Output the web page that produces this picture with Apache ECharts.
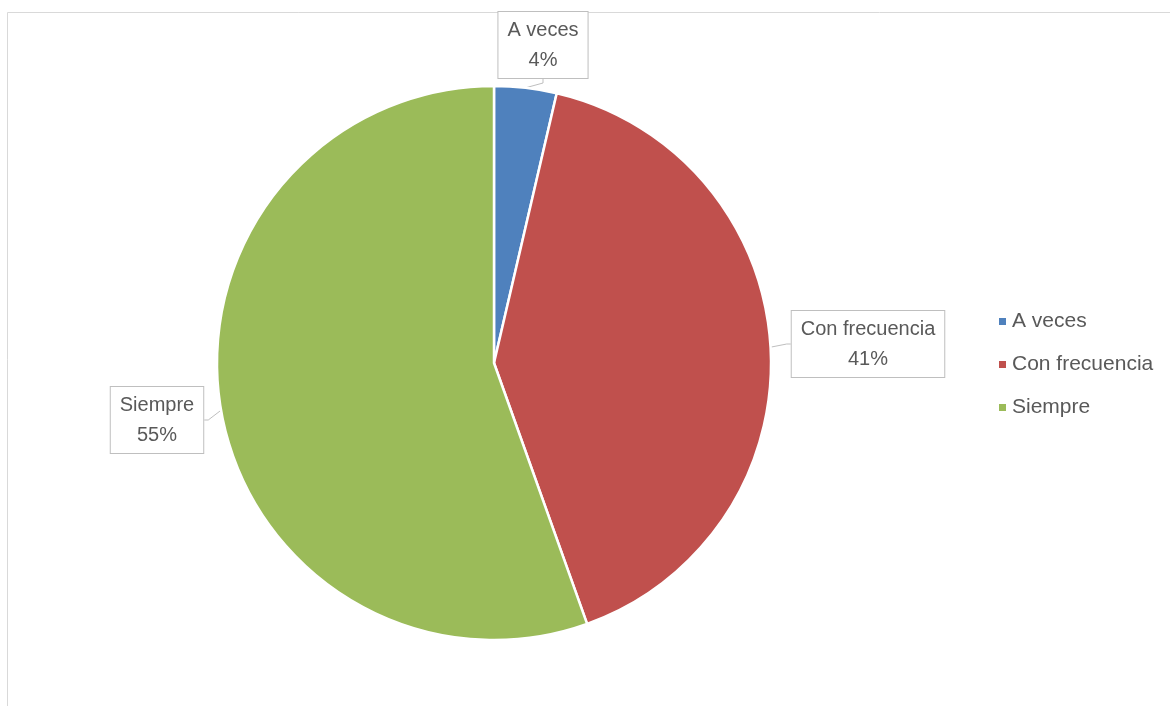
<!DOCTYPE html>
<html>
<head>
<meta charset="utf-8">
<script src="https://cdn.jsdelivr.net/npm/echarts@6/dist/echarts.min.js"></script>
<style>
html,body{margin:0;padding:0;background:#fff;}
#chart{width:1170px;height:706px;}
</style>
</head>
<body>
<div id="chart"></div>
<script>
const categories = ['A veces', 'Con frecuencia', 'Siempre'];
const values = [4, 45, 61];
const colors = ['#4f81bd', '#c0504d', '#9bbb59'];

const labelSpots = [
  {x: 543, y: 45},
  {x: 868, y: 344},
  {x: 157, y: 420}
];

const chart = echarts.init(document.getElementById('chart'));
const font = '"Liberation Sans", Arial, sans-serif';
chart.setOption({
  animation: false,
  backgroundColor: '#fff',
  graphic: [
    {type: 'line', shape: {x1: 7.5, y1: 12.5, x2: 1170, y2: 12.5}, style: {stroke: '#d9d9d9', lineWidth: 1}, z: -1},
    {type: 'line', shape: {x1: 7.5, y1: 12.5, x2: 7.5, y2: 706}, style: {stroke: '#d9d9d9', lineWidth: 1}, z: -1}
  ],
  legend: {
    orient: 'vertical',
    left: 992,
    top: 306,
    itemWidth: 9,
    itemHeight: 9,
    itemGap: 22,
    icon: 'rect',
    textStyle: {fontFamily: font, fontSize: 21, color: '#595959'},
    data: categories
  },
  series: [{
    type: 'pie',
    center: [494, 363],
    radius: 277,
    startAngle: 90,
    clockwise: true,
    percentPrecision: 0,
    itemStyle: {borderColor: '#fff', borderWidth: 2.5},
    data: categories.map((c, i) => ({name: c, value: values[i], itemStyle: {color: colors[i]}})),
    label: {
      show: true,
      position: 'outside',
      formatter: '{b}\n{d}%',
      fontFamily: font,
      fontSize: 20,
      lineHeight: 30,
      color: '#595959',
      align: 'center',
      backgroundColor: '#fff',
      borderColor: '#bfbfbf',
      borderWidth: 1,
      padding: [4, 9, 2, 9]
    },
    labelLine: {show: true, length: 8, length2: 4, lineStyle: {color: '#bfbfbf', width: 1}},
    labelLayout: function (p) {
      const s = labelSpots[p.dataIndex];
      return {x: s.x, y: s.y, align: 'center', verticalAlign: 'middle', hideOverlap: false};
    }
  }]
});
</script>
</body>
</html>
